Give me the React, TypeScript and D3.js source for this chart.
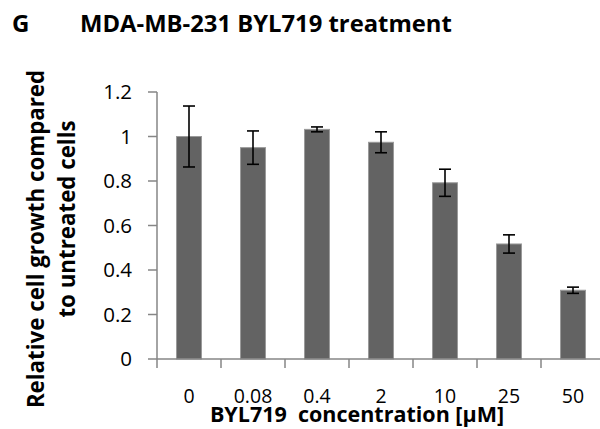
import React from "react";
import * as d3 from "d3";

const categories = ["0", "0.08", "0.4", "2", "10", "25", "50"];
const values = [1.0, 0.95, 1.032, 0.974, 0.792, 0.517, 0.309];
const errors = [0.137, 0.075, 0.011, 0.047, 0.061, 0.041, 0.014];
const yTicks = [0, 0.2, 0.4, 0.6, 0.8, 1, 1.2];

const W = 600;
const H = 429;
const FONT = "'Open Sans', sans-serif";

export default function App() {
  const x0 = 157;
  const x = d3.scaleBand<string>().domain(categories).range([x0, x0 + 64 * 7]).paddingInner(0.61).paddingOuter(0.305);
  const y = d3.scaleLinear().domain([0, 1.2]).range([359, 92]);
  const ticksX = categories.map((_, i) => x0 + i * 64);
  ticksX.push(x0 + 64 * 7);

  return (
    <svg width={W} height={H} style={{ position: "absolute", left: 0, top: 0, background: "#fff" }}>
      <text x={12} y={32} fontFamily={FONT} fontWeight="bold" fontSize={24} fill="#000">G</text>
      <text x={80} y={32} fontFamily={FONT} fontWeight="bold" fontSize={23.8} fill="#000">MDA-MB-231 BYL719 treatment</text>

      {/* y axis */}
      <line x1={x0} x2={x0} y1={y(1.2)} y2={y(0)} stroke="#868686" strokeWidth={1.5} />
      {yTicks.map((t) => (
        <g key={t}>
          <line x1={x0 - 9} x2={x0} y1={y(t)} y2={y(t)} stroke="#868686" strokeWidth={1.5} />
          <text x={132} y={y(t)} dy="0.36em" textAnchor="end" fontFamily={FONT} fontSize={20.5} fill="#000">{d3.format("")(t)}</text>
        </g>
      ))}

      {/* bars */}
      {categories.map((c, i) => (
        <rect key={c} x={x(c)} y={y(values[i])} width={x.bandwidth()} height={y(0) - y(values[i])} fill="#636363" stroke="#9a9a9a" strokeWidth={1} />
      ))}

      {/* x axis */}
      <line x1={x0} x2={W} y1={y(0)} y2={y(0)} stroke="#868686" strokeWidth={1.5} />
      {ticksX.map((tx, i) => (
        <line key={i} x1={tx} x2={tx} y1={y(0)} y2={y(0) + 9} stroke="#868686" strokeWidth={1.5} />
      ))}
      {categories.map((c) => (
        <text key={c} x={(x(c) as number) + x.bandwidth() / 2} y={403} textAnchor="middle" fontFamily={FONT} fontSize={19.5} fill="#000">{c}</text>
      ))}

      {/* error bars */}
      {categories.map((c, i) => {
        const cx = (x(c) as number) + x.bandwidth() / 2;
        const top = y(values[i] + errors[i]);
        const bot = y(values[i] - errors[i]);
        return (
          <g key={c} stroke="#000" strokeWidth={1.6}>
            <line x1={cx} x2={cx} y1={top} y2={bot} />
            <line x1={cx - 6} x2={cx + 6} y1={top} y2={top} />
            <line x1={cx - 6} x2={cx + 6} y1={bot} y2={bot} />
          </g>
        );
      })}

      {/* axis titles */}
      <text x={357} y={422} textAnchor="middle" fontFamily={FONT} fontWeight="bold" fontSize={21.5} fill="#000" style={{ whiteSpace: "pre" }}>BYL719  concentration [µM]</text>
      <text transform="translate(44,239) rotate(-90)" textAnchor="middle" fontFamily={FONT} fontWeight="bold" fontSize={22.3} fill="#000">Relative cell growth compared</text>
      <text transform="translate(75,219) rotate(-90)" textAnchor="middle" fontFamily={FONT} fontWeight="bold" fontSize={22.3} fill="#000">to untreated cells</text>
    </svg>
  );
}
